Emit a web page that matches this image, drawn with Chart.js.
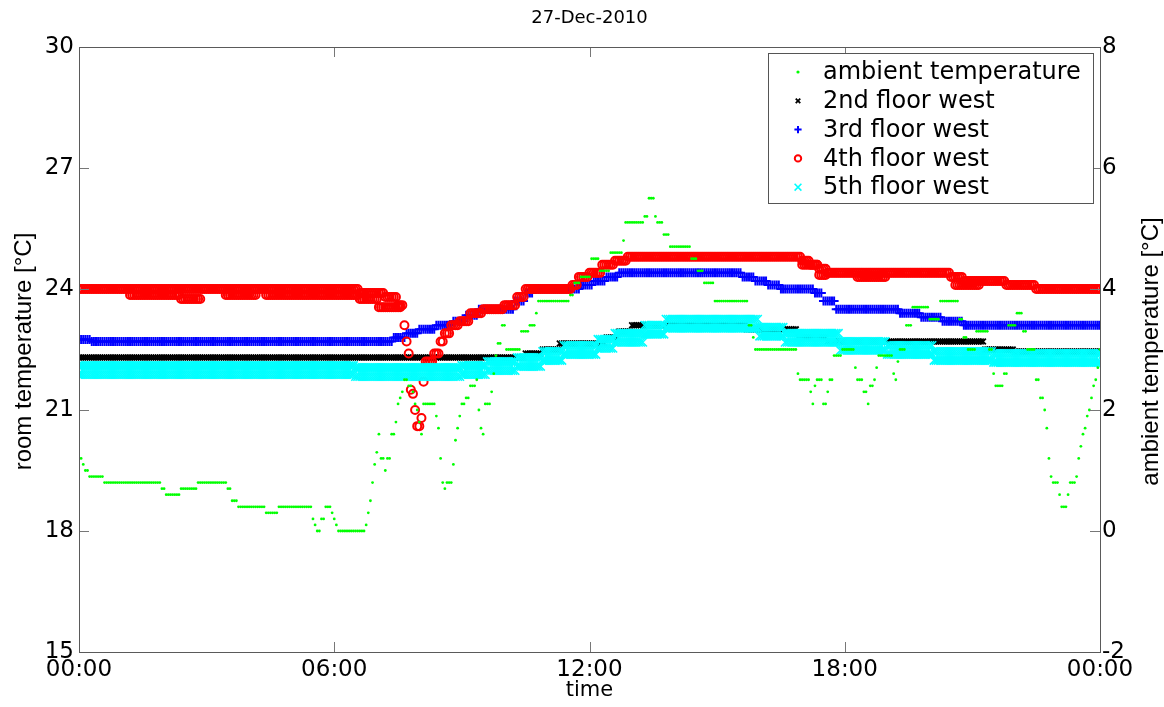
<!DOCTYPE html>
<html>
<head>
<meta charset="utf-8">
<script src="https://cdn.jsdelivr.net/npm/chart.js@4.4.1/dist/chart.umd.min.js"></script>
<style>
  html, body { margin: 0; padding: 0; background: #fff; }
  #wrap { width: 1164px; height: 707px; }
</style>
</head>
<body>
<div id="wrap"><canvas id="tempChart" width="1164" height="707"></canvas></div>
<script>
// readings as [hour the level starts, value]; the sensor holds each level until the next entry
const ambient = [
  [0, 1.2], [0.08, 1.1], [0.15, 1.0], [0.25, 0.9], [0.6, 0.8], [1.95, 0.7], [2.05, 0.6], [2.4, 0.7],
  [2.8, 0.8], [3.5, 0.7], [3.6, 0.5], [3.75, 0.4], [4.4, 0.3], [4.7, 0.4], [5.5, 0.2], [5.55, 0.1],
  [5.6, 0.0], [5.7, 0.2], [5.8, 0.4], [5.95, 0.3], [6.0, 0.2], [6.05, 0.1], [6.1, 0.0], [6.75, 0.1],
  [6.8, 0.3], [6.85, 0.5], [6.9, 0.8], [6.95, 1.1], [7.0, 1.3], [7.05, 1.6], [7.1, 1.2], [7.2, 1.0],
  [7.25, 1.2], [7.35, 1.6], [7.45, 1.8], [7.5, 2.1], [7.55, 2.2], [7.6, 2.3], [7.65, 2.5], [7.75, 2.4],
  [7.85, 2.3], [7.9, 2.1], [7.95, 2.0], [8.0, 1.8], [8.05, 1.6], [8.1, 2.1], [8.4, 1.9], [8.45, 1.7],
  [8.5, 1.2], [8.55, 0.8], [8.6, 0.7], [8.65, 0.8], [8.8, 1.1], [8.85, 1.5], [8.9, 1.7], [8.95, 1.9],
  [9.0, 2.1], [9.1, 2.2], [9.2, 2.4], [9.35, 2.5], [9.4, 2.0], [9.45, 1.7], [9.5, 1.6], [9.55, 2.1],
  [9.7, 2.3], [9.75, 2.6], [9.8, 2.9], [9.85, 3.1], [9.95, 3.4], [10.05, 3.0], [10.4, 3.3], [10.6, 3.4],
  [10.75, 3.6], [10.8, 3.8], [11.55, 3.9], [11.65, 4.1], [11.8, 4.2], [12.05, 4.5], [12.25, 4.3],
  [12.5, 4.6], [12.8, 4.8], [12.85, 5.1], [13.3, 5.2], [13.4, 5.5], [13.55, 5.2], [13.6, 5.1],
  [13.75, 4.9], [13.9, 4.7], [14.4, 4.5], [14.55, 4.3], [14.7, 4.1], [14.95, 3.8], [15.75, 3.4],
  [15.85, 3.2], [15.9, 3.0], [16.9, 2.6], [16.95, 2.5], [17.2, 2.3], [17.25, 2.1], [17.3, 2.4],
  [17.35, 2.5], [17.5, 2.1], [17.6, 2.3], [17.65, 2.5], [17.75, 2.9], [17.95, 3.0], [18.25, 2.7],
  [18.3, 2.5], [18.45, 2.3], [18.55, 2.1], [18.6, 2.4], [18.7, 2.5], [18.75, 2.7], [18.8, 2.9],
  [19.15, 2.6], [19.2, 2.5], [19.25, 2.8], [19.3, 3.0], [19.45, 3.4], [19.6, 3.7], [20.0, 3.5],
  [20.25, 3.8], [20.7, 3.5], [20.8, 3.2], [20.9, 3.0], [21.1, 3.3], [21.4, 3.0], [21.5, 2.6],
  [21.55, 2.4], [21.75, 2.6], [21.85, 3.4], [22.05, 3.6], [22.2, 3.3], [22.3, 3.0], [22.5, 2.5],
  [22.6, 2.2], [22.7, 2.0], [22.75, 1.7], [22.8, 1.2], [22.85, 0.9], [22.9, 0.8], [23.05, 0.6],
  [23.1, 0.4], [23.25, 0.6], [23.3, 0.8], [23.45, 0.9], [23.5, 1.2], [23.55, 1.4], [23.6, 1.6],
  [23.65, 1.7], [23.7, 1.9], [23.75, 2.0], [23.8, 2.2], [23.85, 2.4], [23.9, 2.5], [23.95, 2.7], [24.0, 3.0]
];

const floor2 = [
  [0, 22.3], [10.5, 22.4], [10.9, 22.5], [11.3, 22.65], [12.4, 22.8], [12.7, 22.95], [13.0, 23.1],
  [15.7, 23.0], [16.9, 22.8], [17.6, 22.7], [21.3, 22.5], [22.0, 22.45]
];

const floor3 = [
  [0, 22.75], [0.3, 22.7], [7.4, 22.8], [7.7, 22.9], [8.0, 23.0], [8.4, 23.1], [8.8, 23.2], [9.1, 23.35],
  [9.4, 23.5], [10.25, 23.7], [10.5, 23.9], [10.7, 24.0], [11.8, 24.1], [12.1, 24.2], [12.4, 24.3],
  [12.7, 24.4], [15.6, 24.3], [15.9, 24.2], [16.2, 24.1], [16.5, 24.0], [17.3, 23.9], [17.5, 23.7],
  [17.8, 23.5], [19.3, 23.4], [19.8, 23.3], [20.3, 23.2], [20.8, 23.1]
];

const floor4 = [
  [0, 24.0], [6.6, 23.9], [7.2, 23.8], [7.5, 23.6], [7.65, 23.1], [7.7, 22.7], [7.75, 22.4], [7.8, 21.5],
  [7.85, 21.4], [7.9, 21.0], [7.95, 20.6], [8.05, 20.8], [8.1, 21.7], [8.15, 22.2], [8.35, 22.4],
  [8.5, 22.7], [8.6, 22.9], [8.75, 23.1], [8.95, 23.2], [9.2, 23.4], [9.5, 23.5], [10.0, 23.6],
  [10.3, 23.8], [10.5, 24.0], [11.6, 24.1], [11.75, 24.3], [12.0, 24.4], [12.3, 24.6], [12.6, 24.7],
  [12.9, 24.8], [17.0, 24.7], [17.2, 24.6], [17.4, 24.5], [17.6, 24.4], [20.5, 24.3], [20.8, 24.2],
  [21.8, 24.1], [22.5, 24.0]
];
// lower readings the 4th floor sensor flips to now and then (null = none seen)
const floor4Low = [
  [0, null], [1.2, 23.85], [2.4, 23.75], [2.9, null], [3.45, 23.85], [4.2, null], [4.4, 23.85],
  [6.6, 23.75], [7.05, 23.55], [7.6, null], [17.0, 24.6], [17.4, 24.35], [17.6, null],
  [18.3, 24.3], [19.0, null], [20.6, 24.1], [21.2, null]
];

// 5th floor scatters over a band, kept as its upper and lower readings
const floor5Upper = [
  [0, 22.1], [6.5, 22.05], [9.0, 22.1], [9.6, 22.2], [10.3, 22.3], [10.9, 22.45], [11.4, 22.6],
  [12.2, 22.75], [12.6, 22.9], [13.3, 23.1], [13.8, 23.25], [16.0, 23.05], [16.6, 22.9], [17.9, 22.7],
  [19.0, 22.6], [20.1, 22.45], [21.5, 22.4]
];
const floor5Lower = [
  [0, 21.88], [6.5, 21.83], [9.0, 21.88], [9.6, 21.98], [10.3, 22.08], [10.9, 22.23], [11.4, 22.38],
  [12.2, 22.53], [12.6, 22.68], [13.3, 22.88], [13.8, 23.03], [16.0, 22.83], [16.6, 22.68], [17.9, 22.48],
  [19.0, 22.38], [20.1, 22.23], [21.5, 22.18]
];

const timeTicks = [0, 6, 12, 18, 24];
const roomTicks = [15, 18, 21, 24, 27, 30];
const ambientTicks = [-2, 0, 2, 4, 6, 8];

const STEP = 0.05; // logger interval in hours

function sampleRuns(runs) {
  const pts = [];
  for (let i = 0; i <= 24 / STEP; i++) {
    const t = i * STEP;
    let v = null;
    for (const [h, val] of runs) {
      if (h <= t + 1e-6) v = val; else break;
    }
    pts.push({ x: t, y: v });
  }
  return pts;
}

const FONT = 'DejaVu Sans';
Chart.defaults.font.family = FONT;
Chart.defaults.color = '#000';

const legendRows = [
  { label: 'ambient temperature', ds: 0 },
  { label: '2nd floor west', ds: 1 },
  { label: '3rd floor west', ds: 2 },
  { label: '4th floor west', ds: 3 },
  { label: '5th floor west', ds: 5 }
];

const framePlugin = {
  id: 'frame',
  afterDatasetsDraw(chart) {
    const { ctx, chartArea: a, scales } = chart;
    ctx.save();
    // inward ticks
    ctx.strokeStyle = '#777';
    ctx.lineWidth = 1;
    ctx.beginPath();
    timeTicks.forEach(v => {
      const px = Math.round(scales.x.getPixelForValue(v)) + 0.5;
      ctx.moveTo(px, a.bottom); ctx.lineTo(px, a.bottom - 10);
      ctx.moveTo(px, a.top); ctx.lineTo(px, a.top + 10);
    });
    roomTicks.forEach(v => {
      const py = Math.round(scales.y.getPixelForValue(v)) + 0.5;
      ctx.moveTo(a.left, py); ctx.lineTo(a.left + 10, py);
    });
    ambientTicks.forEach(v => {
      const py = Math.round(scales.y1.getPixelForValue(v)) + 0.5;
      ctx.moveTo(a.right, py); ctx.lineTo(a.right - 10, py);
    });
    ctx.stroke();
    // box
    ctx.strokeStyle = '#5a5a5a';
    ctx.strokeRect(Math.round(a.left) + 0.5, Math.round(a.top) + 0.5,
      Math.round(a.right - a.left), Math.round(a.bottom - a.top));

    // legend
    const lx = 768, ly = 53, lw = 325, lh = 150;
    ctx.fillStyle = '#fff';
    ctx.fillRect(lx, ly, lw, lh);
    ctx.strokeStyle = '#555';
    ctx.strokeRect(lx + 0.5, ly + 0.5, lw, lh);
    ctx.font = '24px ' + FONT;
    ctx.textBaseline = 'middle';
    ctx.textAlign = 'left';
    legendRows.forEach((row, i) => {
      const y = 72 + i * 28.8;
      const ds = chart.data.datasets[row.ds];
      ctx.fillStyle = ds.pointBackgroundColor;
      ctx.strokeStyle = ds.pointBorderColor;
      ctx.lineWidth = ds.pointBorderWidth || 1;
      Chart.helpers.drawPoint(ctx, {
        pointStyle: ds.pointStyle,
        radius: ds.pointBorderWidth === 0 ? 1.6 : ds.pointRadius * 0.8,
        borderWidth: ds.pointBorderWidth,
        rotation: 0
      }, 798, y);
      ctx.fillStyle = '#000';
      ctx.fillText(row.label, 823, y + 1);
    });

    // axis titles, both read bottom to top
    ctx.font = '24px "Liberation Sans"';
    ctx.textAlign = 'center';
    ctx.fillStyle = '#000';
    [['room temperature [°C]', 24], ['ambient temperature [°C]', 1151]].forEach(([txt, x]) => {
      ctx.save();
      ctx.translate(x, (a.top + a.bottom) / 2 + 2);
      ctx.rotate(-Math.PI / 2);
      ctx.fillText(txt, 0, 0);
      ctx.restore();
    });
    ctx.restore();
  }
};

function markers(style, radius, width, color, fill) {
  return { pointStyle: style, pointRadius: radius, pointBorderWidth: width,
    pointBorderColor: color, pointBackgroundColor: fill || color };
}

const ctx = document.getElementById('tempChart').getContext('2d');
const tempChart = new Chart(ctx, {
  type: 'scatter',
  data: {
    datasets: [
      { label: 'ambient temperature', data: sampleRuns(ambient), yAxisID: 'y1', order: 0,
        ...markers('circle', 1.4, 0, '#00ff00') },
      { label: '2nd floor west', data: sampleRuns(floor2), yAxisID: 'y', order: 4,
        ...markers('crossRot', 4, 1.8, '#000000') },
      { label: '3rd floor west', data: sampleRuns(floor3), yAxisID: 'y', order: 3,
        ...markers('cross', 4.5, 2, '#0000ff') },
      { label: '4th floor west', data: sampleRuns(floor4), yAxisID: 'y', order: 2,
        ...markers('circle', 4, 2, '#ff0000', 'rgba(0,0,0,0)') },
      { label: '4th floor west (low)', data: sampleRuns(floor4Low), yAxisID: 'y', order: 2,
        ...markers('circle', 4, 2, '#ff0000', 'rgba(0,0,0,0)') },
      { label: '5th floor west', data: sampleRuns(floor5Upper), yAxisID: 'y', order: 1,
        ...markers('crossRot', 6, 1.6, '#00ffff') },
      { label: '5th floor west (low)', data: sampleRuns(floor5Lower), yAxisID: 'y', order: 1,
        ...markers('crossRot', 6, 1.6, '#00ffff') }
    ]
  },
  options: {
    responsive: false,
    animation: false,
    events: [],
    layout: { padding: 0 },
    plugins: {
      legend: { display: false },
      tooltip: { enabled: false },
      title: {
        display: true, text: '27-Dec-2010', fullSize: false, color: '#000',
        font: { size: 18, weight: 'normal' }, padding: { top: 8, bottom: 17.4 }
      }
    },
    scales: {
      x: {
        type: 'linear', min: 0, max: 24,
        afterBuildTicks: s => { s.ticks = timeTicks.map(v => ({ value: v })); },
        ticks: { font: { size: 23 }, padding: 4, maxRotation: 0, autoSkip: false,
          callback: v => String(v % 24).padStart(2, '0') + ':00' },
        grid: { display: false, drawTicks: false },
        border: { display: false },
        title: { display: true, text: 'time', font: { size: 21 }, padding: { top: 0, bottom: 4 } },
        afterFit: s => { s.height = 55; }
      },
      y: {
        type: 'linear', position: 'left', min: 15, max: 30,
        afterBuildTicks: s => { s.ticks = roomTicks.map(v => ({ value: v })); },
        ticks: { font: { size: 23 }, padding: 5 },
        grid: { display: false, drawTicks: false },
        border: { display: false },
        afterFit: s => { s.width = 79; }
      },
      y1: {
        type: 'linear', position: 'right', min: -2, max: 8,
        afterBuildTicks: s => { s.ticks = ambientTicks.map(v => ({ value: v })); },
        ticks: { font: { size: 23 }, padding: 2 },
        grid: { display: false, drawTicks: false },
        border: { display: false },
        afterFit: s => { s.width = 64; }
      }
    }
  },
  plugins: [framePlugin]
});
window.tempChart = tempChart;
</script>
</body>
</html>
